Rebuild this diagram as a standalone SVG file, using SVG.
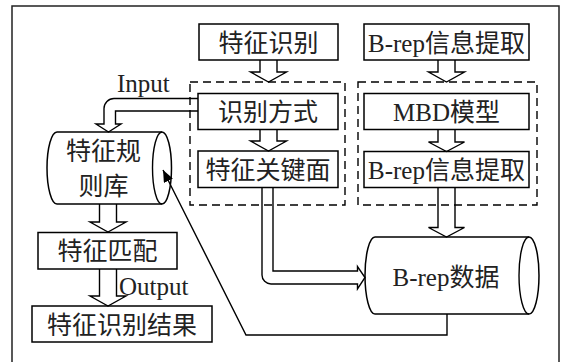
<svg xmlns="http://www.w3.org/2000/svg" width="561" height="362" viewBox="0 0 561 362">
<style>
  .box{fill:#fff;stroke:#000;stroke-width:1.5}
  .dash{fill:none;stroke:#000;stroke-width:1.4;stroke-dasharray:8 5}
  .arr{fill:none;stroke:#000;stroke-width:1.4;stroke-linejoin:miter}
  .ln{fill:none;stroke:#000;stroke-width:1.4}
  .t{font-family:"Liberation Serif","Noto Sans CJK SC",serif;font-size:25px;fill:#222;text-anchor:middle}
  .tl{font-family:"Liberation Serif","Noto Sans CJK SC",serif;font-size:25px;fill:#222}
</style>
<defs>
  <marker id="tri" viewBox="0 0 12 10" refX="12" refY="5" markerWidth="12" markerHeight="10" markerUnits="userSpaceOnUse" orient="auto">
    <path d="M0,0 L12,5 L0,10 Z" fill="#000"/>
  </marker>
</defs>
<rect x="0" y="0" width="561" height="362" fill="#fff"/>
<rect x="12" y="6" width="547" height="362" fill="none" stroke="#222" stroke-width="1.5"/>

<g id="group-left"><rect class="dash" x="190" y="82" width="155" height="123"/></g>
<g id="group-right"><rect class="dash" x="358" y="82" width="179" height="123"/></g>

<g id="n-tezhengshibie"><rect class="box" x="199" y="24" width="139" height="36"/><text class="t" x="268.5" y="51.5">特征识别</text></g>
<g id="n-shibiefangshi"><rect class="box" x="198" y="93.5" width="140" height="36"/><text class="t" x="268" y="121">识别方式</text></g>
<g id="n-guanjianmian"><rect class="box" x="198" y="151" width="140" height="36.5"/><text class="t" x="268" y="179">特征关键面</text></g>
<g id="n-brep1"><rect class="box" x="364" y="24" width="165" height="36"/><text class="t" x="446.5" y="51.5">B-rep信息提取</text></g>
<g id="n-mbd"><rect class="box" x="364" y="93.5" width="165" height="36"/><text class="t" x="446.5" y="121">MBD模型</text></g>
<g id="n-brep2"><rect class="box" x="364" y="151.5" width="165" height="36"/><text class="t" x="446.5" y="179">B-rep信息提取</text></g>

<g id="n-guizeku">
  <path class="box" d="M57,132 H162 A9.5,36 0 0 1 162,204 H57 A10,36 0 0 1 57,132 Z"/>
  <path class="ln" d="M162,132 A9.5,36 0 0 0 162,204"/>
  <text class="t" x="103.5" y="159.5">特征规</text>
  <text class="t" x="103.5" y="194.5">则库</text>
</g>
<g id="n-brepdata">
  <path class="box" d="M375,237 H529 A10,38.5 0 0 1 529,314 H375 A10,38.5 0 0 1 375,237 Z"/>
  <path class="ln" d="M529,237 A10,38.5 0 0 0 529,314"/>
  <text class="t" x="446" y="286">B-rep数据</text>
</g>
<g id="n-pipei"><rect class="box" x="38" y="232.5" width="139" height="36.5"/><text class="t" x="107.5" y="260">特征匹配</text></g>
<g id="n-jieguo"><rect class="box" x="32" y="306" width="180" height="36"/><text class="t" x="122" y="333.5">特征识别结果</text></g>

<g id="connectors">
  <path class="arr" d="M260,60 V72 H250.5 L268.5,82 L286.5,72 H277 V60"/>
  <path class="arr" d="M260,129.5 V141 H250.5 L268.5,151 L286.5,141 H277 V129.5"/>
  <path class="arr" d="M438,60 V72 H428.5 L446.5,82 L464.5,72 H455 V60"/>
  <path class="arr" d="M438,129.5 V142 H428.5 L446.5,151.5 L464.5,142 H455 V129.5"/>
  <path class="arr" d="M438,187.5 V227.5 H428.5 L446.5,237 L464.5,227.5 H455 V187.5"/>
  <path class="arr" d="M99.5,204 V222 H90 L108,232 L126,222 H116.5 V204"/>
  <path class="arr" d="M99.5,269 V296 H90 L108,306 L126,296 H116.5 V269"/>
  <path class="arr" d="M198,98.5 H114 A10,10 0 0 0 104,108.5 V124 H96 L108.5,132 L121,124 H115.5 V111 H198"/>
  <path class="arr" d="M262,187.5 V275 A9,9 0 0 0 271,284 H357.5 V289 L365,277.5 L357.5,266.5 V271 H273 V187.5"/>
  <path class="ln" d="M447,314 V335 H246 L163,170" marker-end="url(#tri)"/>
</g>

<text class="tl" x="117" y="92">Input</text>
<text class="tl" x="119" y="295">Output</text>
</svg>
